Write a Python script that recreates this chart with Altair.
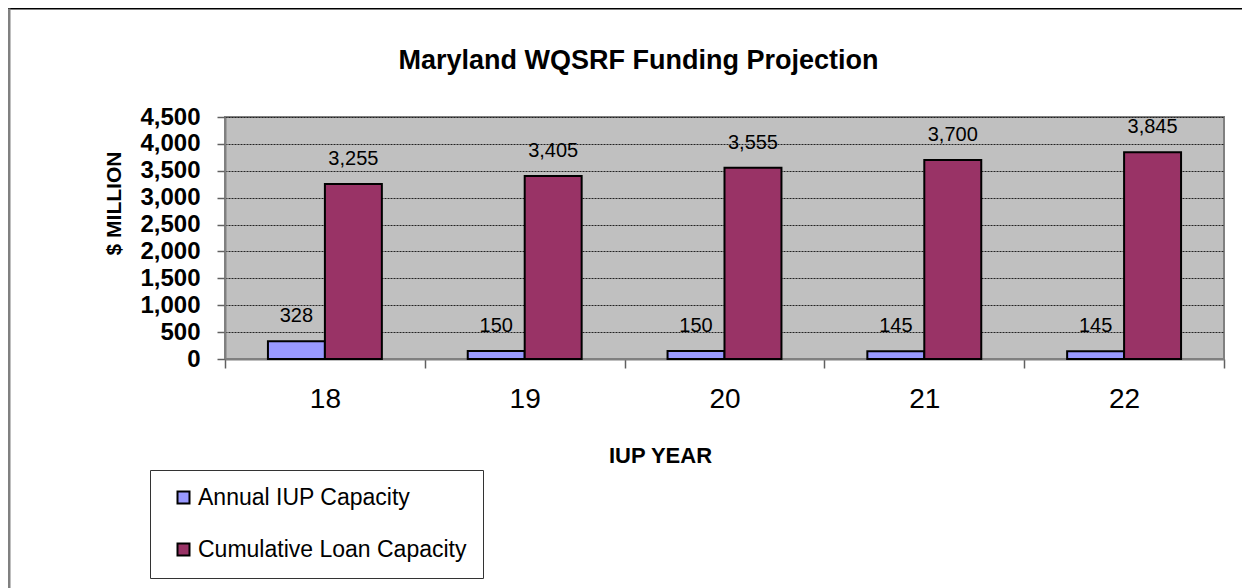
import altair as alt
import pandas as pd

years = ["18", "19", "20", "21", "22"]
annual = [328, 150, 150, 145, 145]
cumulative = [3255, 3405, 3555, 3700, 3845]
series = ["Annual IUP Capacity", "Cumulative Loan Capacity"]
colors = ["#9999FF", "#993366"]
y_ticks = list(range(0, 4501, 500))

rows = []
for i, yr in enumerate(years):
    rows.append({"year": yr, "series": series[0], "value": annual[i]})
    rows.append({"year": yr, "series": series[1], "value": cumulative[i]})
df = pd.DataFrame(rows)

FONT = "Liberation Sans"

x_enc = alt.X(
    "year:N",
    sort=years,
    scale=alt.Scale(paddingInner=0, paddingOuter=0),
    axis=alt.Axis(
        title="IUP YEAR",
        titleFont=FONT,
        titleFontSize=22,
        titleFontWeight="bold",
        titleColor="black",
        titleX=435,
        titleY=103,
        titleBaseline="alphabetic",
        titleAlign="center",
        titleAnchor="start",
        labelFont=FONT,
        labelFontSize=28,
        labelColor="black",
        labelAngle=0,
        labelPadding=17,
        tickSize=9,
        tickBand="extent",
        tickColor="#606060",
        tickWidth=1.5,
        domainColor="#808080",
        domainWidth=2,
        grid=False,
    ),
)
xoff = alt.XOffset(
    "series:N",
    sort=series,
    scale=alt.Scale(paddingInner=0, paddingOuter=0.754),
)
y_enc = alt.Y(
    "value:Q",
    scale=alt.Scale(domain=[0, 4500], nice=False),
    axis=alt.Axis(
        title="$ MILLION",
        titleFont=FONT,
        titleFontSize=21,
        titleFontWeight="bold",
        titleColor="black",
        titleX=-111,
        titleY=86,
        titleAngle=-90,
        titleBaseline="middle",
        titleAlign="center",
        titleAnchor="start",
        values=y_ticks,
        format=",.0f",
        labelOverlap=False,
        labelFont=FONT,
        labelFontSize=24,
        labelFontWeight="bold",
        labelColor="black",
        labelPadding=17,
        tickSize=8,
        tickColor="#606060",
        tickWidth=1.5,
        domainColor="#808080",
        domainWidth=2,
        grid=True,
        gridColor="#222222",
        gridDash=[2, 1],
        gridWidth=1,
    ),
)

bars = alt.Chart(df).mark_bar(stroke="black", strokeWidth=2).encode(
    x=x_enc,
    xOffset=xoff,
    y=y_enc,
    color=alt.Color(
        "series:N",
        sort=series,
        scale=alt.Scale(domain=series, range=colors),
        legend=alt.Legend(
            title=None,
            orient="none",
            legendX=-75,
            legendY=353,
            direction="vertical",
            symbolType="square",
            symbolSize=144,
            symbolStrokeColor="black",
            symbolStrokeWidth=2,
            symbolOffset=6,
            labelFont=FONT,
            labelFontSize=23,
            labelColor="black",
            labelOffset=3,
            rowPadding=28,
            padding=16,
            strokeColor="#333333",
            fillColor="white",
            labelLimit=400,
        ),
    ),
)

labels = alt.Chart(df).mark_text(
    font=FONT, fontSize=20, color="black", baseline="alphabetic", dy=-19
).encode(
    x=x_enc,
    xOffset=xoff,
    y=y_enc,
    text=alt.Text("value:Q", format=","),
)

frame = pd.DataFrame({"k": [0]})
top_rule = alt.Chart(frame).mark_rule(color="black", strokeWidth=2).encode(
    x=alt.value(-217), x2=alt.value(1100), y=alt.value(-108.5)
)
left_rule = alt.Chart(frame).mark_rule(color="#808080", strokeWidth=3).encode(
    x=alt.value(-216), y=alt.value(-108.5), y2=alt.value(500)
)

chart = (
    alt.layer(bars, labels, top_rule, left_rule)
    .properties(
        width=999,
        height=242,
        autosize=alt.AutoSizeParams(type="none"),
        padding={"left": 217, "top": 109, "right": 18, "bottom": 240},
        title=alt.TitleParams(
            "Maryland WQSRF Funding Projection",
            font=FONT,
            fontSize=27,
            fontWeight="bold",
            color="black",
            anchor="middle",
            frame="group",
            dx=-86,
            dy=89,
            baseline="alphabetic",
            offset=0,
        ),
        background="white",
    )
    .configure_view(fill="#C0C0C0", stroke="#808080", strokeWidth=2)
)

chart.save("out.html", embed_options={"renderer": "svg", "actions": False})
